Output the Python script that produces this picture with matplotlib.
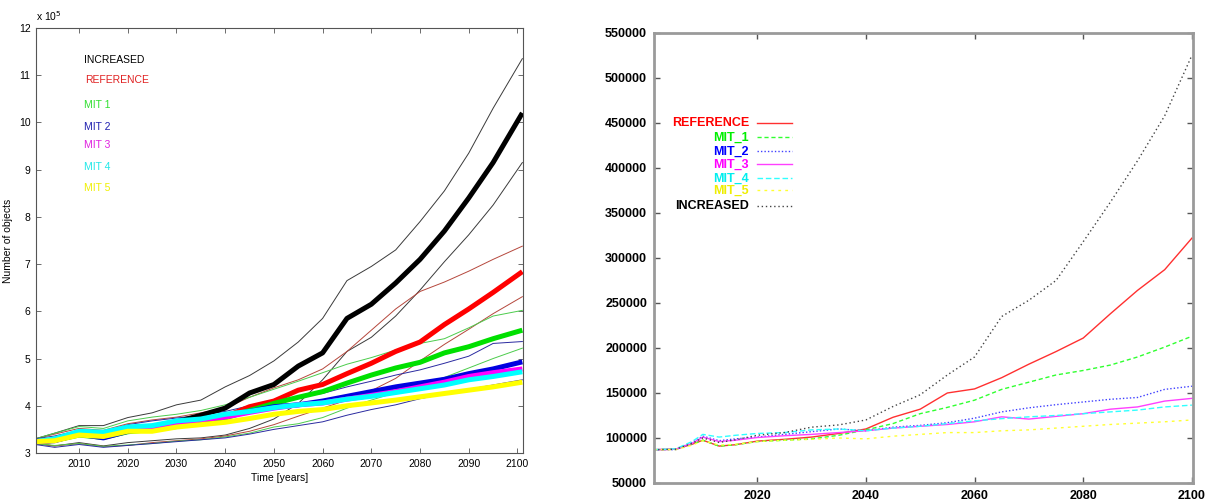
import matplotlib
matplotlib.use("Agg")
import matplotlib.pyplot as plt

# ── Left panel: ensemble mean (thick) and +/- 1 sigma (thin), units of 1e5 ──
years_l = [2001, 2005, 2010, 2015, 2020, 2025, 2030, 2035, 2040, 2045, 2050,
           2055, 2060, 2065, 2070, 2075, 2080, 2085, 2090, 2095, 2101]

inc_mean = [3.24, 3.27, 3.40, 3.36, 3.48, 3.55, 3.66, 3.80, 3.95, 4.27, 4.45,
            4.84, 5.12, 5.85, 6.15, 6.60, 7.10, 7.70, 8.40, 9.15, 10.20]
inc_hi = [3.30, 3.42, 3.58, 3.58, 3.75, 3.85, 4.02, 4.12, 4.40, 4.64, 4.95,
          5.35, 5.85, 6.65, 6.95, 7.30, 7.90, 8.55, 9.35, 10.30, 11.35]
inc_lo = [3.20, 3.15, 3.22, 3.15, 3.22, 3.26, 3.30, 3.32, 3.38, 3.52, 3.72,
          4.05, 4.55, 5.15, 5.45, 5.90, 6.45, 7.05, 7.62, 8.25, 9.15]

ref_mean = [3.24, 3.27, 3.40, 3.36, 3.48, 3.52, 3.60, 3.66, 3.77, 3.98, 4.10,
            4.33, 4.45, 4.68, 4.90, 5.15, 5.35, 5.72, 6.05, 6.40, 6.84]
ref_hi = [3.30, 3.40, 3.52, 3.48, 3.62, 3.70, 3.76, 3.85, 3.95, 4.18, 4.38,
          4.55, 4.78, 5.15, 5.60, 6.05, 6.42, 6.62, 6.85, 7.10, 7.38]
ref_lo = [3.20, 3.15, 3.20, 3.14, 3.16, 3.22, 3.26, 3.30, 3.36, 3.46, 3.60,
          3.78, 3.95, 4.12, 4.32, 4.58, 4.95, 5.30, 5.62, 5.95, 6.31]

mit1_mean = [3.24, 3.27, 3.38, 3.33, 3.45, 3.50, 3.56, 3.65, 3.74, 3.90, 4.05,
             4.18, 4.30, 4.48, 4.65, 4.80, 4.92, 5.12, 5.25, 5.42, 5.60]
mit1_hi = [3.30, 3.42, 3.56, 3.52, 3.68, 3.76, 3.82, 3.90, 4.02, 4.18, 4.35,
           4.52, 4.70, 4.88, 5.02, 5.18, 5.32, 5.42, 5.65, 5.90, 6.02]
mit1_lo = [3.20, 3.16, 3.20, 3.14, 3.17, 3.20, 3.25, 3.28, 3.34, 3.42, 3.55,
           3.62, 3.75, 3.95, 4.12, 4.28, 4.45, 4.60, 4.80, 5.00, 5.22]

mit2_mean = [3.24, 3.26, 3.40, 3.32, 3.46, 3.53, 3.62, 3.70, 3.78, 3.88, 3.98,
             4.02, 4.10, 4.20, 4.30, 4.40, 4.48, 4.56, 4.68, 4.78, 4.93]
mit2_hi = [3.30, 3.36, 3.48, 3.45, 3.60, 3.68, 3.74, 3.80, 3.88, 4.00, 4.08,
           4.18, 4.26, 4.40, 4.52, 4.65, 4.76, 4.90, 5.05, 5.32, 5.36]
mit2_lo = [3.18, 3.12, 3.18, 3.12, 3.16, 3.20, 3.24, 3.28, 3.32, 3.40, 3.50,
           3.58, 3.66, 3.80, 3.92, 4.02, 4.15, 4.25, 4.35, 4.44, 4.55]

mit3_mean = [3.24, 3.27, 3.42, 3.36, 3.50, 3.55, 3.62, 3.70, 3.76, 3.86, 3.95,
             4.02, 4.06, 4.14, 4.22, 4.30, 4.40, 4.50, 4.62, 4.70, 4.78]
mit4_mean = [3.24, 3.30, 3.46, 3.44, 3.55, 3.58, 3.68, 3.72, 3.82, 3.88, 3.96,
             4.02, 4.06, 4.14, 4.20, 4.28, 4.36, 4.44, 4.55, 4.62, 4.72]
mit5_mean = [3.24, 3.26, 3.38, 3.35, 3.46, 3.46, 3.55, 3.60, 3.65, 3.73, 3.82,
             3.88, 3.92, 4.00, 4.06, 4.12, 4.19, 4.26, 4.33, 4.40, 4.50]

labels_l = ["INCREASED", "REFERENCE", "MIT 1", "MIT 2", "MIT 3", "MIT 4", "MIT 5"]

# ── Right panel: single runs, number of objects ──
years_r = [2001, 2005, 2008, 2010, 2013, 2016, 2020, 2025, 2030, 2035, 2040,
           2045, 2050, 2055, 2060, 2065, 2070, 2075, 2080, 2085, 2090, 2095, 2100]

r_ref = [87000, 87500, 93000, 97500, 91000, 92500, 96500, 98500, 101000, 105000,
         110000, 123000, 132000, 150000, 154500, 167000, 182000, 196000, 211000,
         238000, 264000, 287000, 322000]
r_mit1 = [87000, 87500, 93000, 97500, 91000, 92500, 96000, 97500, 99000, 103000,
          109000, 116000, 127000, 134000, 142000, 154000, 162000, 170000, 175000,
          181000, 190000, 201000, 213000]
r_mit2 = [87000, 87000, 95000, 102000, 97000, 99000, 101000, 104000, 107000,
          110000, 108000, 112000, 114000, 117000, 122000, 129000, 133500, 137000,
          140000, 143000, 145000, 154000, 157500]
r_mit3 = [87000, 87500, 94000, 101000, 96000, 97500, 100500, 102500, 104000,
          106000, 108000, 111000, 113000, 115000, 118000, 123500, 121000, 124000,
          127000, 132000, 134500, 141000, 144000]
r_mit4 = [87000, 88000, 96000, 104000, 101000, 103000, 105000, 106000, 109000,
          110000, 108000, 111000, 113000, 116000, 119000, 121500, 123500, 125000,
          127000, 129000, 131000, 134500, 136500]
r_mit5 = [87000, 87000, 92000, 97000, 92000, 93000, 96000, 97500, 98500, 100000,
          99000, 102000, 104000, 106000, 106000, 108000, 109000, 111000, 113000,
          115000, 116500, 118000, 120000]
r_inc = [87000, 87500, 94000, 100000, 95000, 98000, 103000, 106000, 112000,
         114500, 120000, 135000, 148000, 170000, 190000, 235000, 253000, 275000,
         318000, 362000, 408000, 458000, 525000]

labels_r = ["REFERENCE", "MIT_1", "MIT_2", "MIT_3", "MIT_4", "MIT_5", "INCREASED"]

plt.rcParams.update({
    "font.family": ["Liberation Sans", "DejaVu Sans"],
    "xtick.direction": "in",
    "ytick.direction": "in",
})

fig = plt.figure(figsize=(12.05, 5.04), dpi=100)

# ── Left panel ───────────────────────────────────────────────────────────
ax = fig.add_axes([0.0299, 0.1012, 0.4041, 0.8433])

thin = [(inc_hi, inc_lo, "#3a3a3a"), (ref_hi, ref_lo, "#b5473c"),
        (mit1_hi, mit1_lo, "#4ccc4c"), (mit2_hi, mit2_lo, "#2a2aa0")]
for hi, lo, c in thin:
    ax.plot(years_l, hi, color=c, lw=0.7)
    ax.plot(years_l, lo, color=c, lw=0.7)

thick = [(inc_mean, "black"), (ref_mean, "#ff0000"), (mit1_mean, "#00e000"),
         (mit2_mean, "#0000e0"), (mit3_mean, "#ff00ff"), (mit4_mean, "#00ffff"),
         (mit5_mean, "#ffff00")]
for vals, c in thick:
    ax.plot(years_l, vals, color=c, lw=3.6, solid_capstyle="butt")

ax.set_xlim(2001.17, 2101.13)
ax.set_ylim(3, 12)
ax.set_xticks(range(2010, 2101, 10))
ax.set_yticks(range(3, 13))
ax.tick_params(labelsize=7.5, length=3.5, width=0.6, color="#555555",
               top=True, right=True, pad=4)
for s in ax.spines.values():
    s.set_color("#555555")
    s.set_linewidth(0.8)
ax.set_xlabel("Time [years]", fontsize=7.5, labelpad=3)
ax.set_ylabel("Number of objects", fontsize=7.5)
ax.yaxis.set_label_coords(-0.047, 0.5)
ax.text(0.0, 1.012, r"x 10$^5$", transform=ax.transAxes, fontsize=7.5,
        va="bottom")

legend_l_pos = [(0.0986, 0.925), (0.101, 0.878), (0.0986, 0.819),
                (0.0986, 0.767), (0.0986, 0.725), (0.0986, 0.673),
                (0.0986, 0.624)]
legend_l_col = ["black", "#e02020", "#30e030", "#2020b0", "#e020e0",
                "#20e8e8", "#f0f000"]
for lab, (x, y), c in zip(labels_l, legend_l_pos, legend_l_col):
    ax.text(x, y, lab, transform=ax.transAxes, color=c, fontsize=7.5,
            va="center", ha="left")

# ── Right panel ──────────────────────────────────────────────────────────
bx = fig.add_axes([0.5427, 0.0417, 0.4473, 0.8929])

styles = [(r_ref, "#ff3030", "-"), (r_mit1, "#30ff30", (0, (3, 2))),
          (r_mit2, "#4040ff", (0, (1, 1.5))), (r_mit3, "#ff40ff", "-"),
          (r_mit4, "#30ffff", (0, (4, 2))), (r_mit5, "#ffff30", (0, (2, 3))),
          (r_inc, "#444444", (0, (1, 2)))]
for vals, c, ls in styles:
    bx.plot(years_r, vals, color=c, lw=1.0, ls=ls)

bx.set_xlim(2001, 2100.2)
bx.set_ylim(50000, 550000)
bx.set_xticks(range(2020, 2101, 20))
bx.set_yticks(range(50000, 550001, 50000))
bx.tick_params(labelsize=9, length=4, width=1.0, color="#555555",
               top=True, right=True, pad=5)
for t in bx.get_xticklabels() + bx.get_yticklabels():
    t.set_fontweight("bold")
for s in bx.spines.values():
    s.set_color("#9a9a9a")
    s.set_linewidth(2.0)

legend_r_y = [0.800, 0.768, 0.737, 0.708, 0.677, 0.650, 0.616]
legend_r_txt = ["#ff0000", "#00ee00", "#0000ff", "#ff00ff", "#00eeee",
                "#eeee00", "black"]
for lab, y, tc, (vals, c, ls) in zip(labels_r, legend_r_y, legend_r_txt, styles):
    bx.text(0.1763, y, lab, transform=bx.transAxes, color=tc, fontsize=9,
            fontweight="bold", ha="right", va="center")
    bx.plot([0.191, 0.256], [y, y], transform=bx.transAxes, color=c, lw=1.0,
            ls=ls)

fig.savefig("out.png", dpi=100)
